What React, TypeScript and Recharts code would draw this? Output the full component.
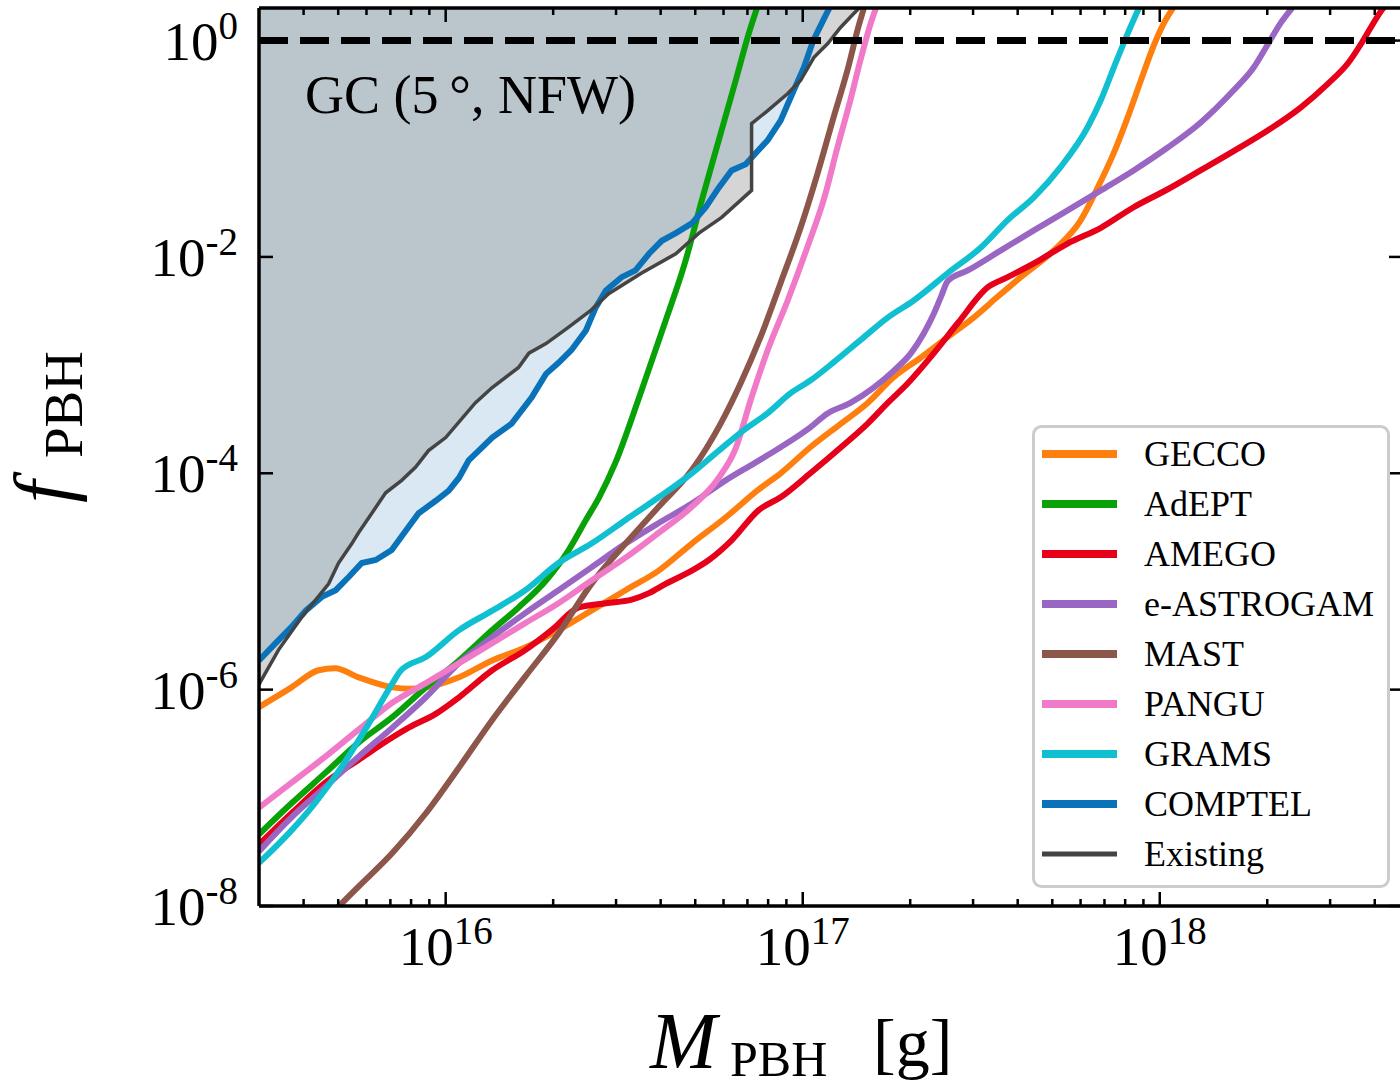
import React from 'react';
import { ComposedChart, Line, Area, XAxis, YAxis, ReferenceLine, Legend } from 'recharts';

type Pt = [number, number];

// axis ranges (mass in g, fraction f_PBH)
const X_MIN = 3.0e15;
const X_MAX = 4.8e18;
const Y_MIN = 1e-8;
const Y_MAX = 2;

const X_MAJOR = [1e16, 1e17, 1e18];
const X_MAJOR_EXP = ['16', '17', '18'];
const X_MINOR = [
  4e15, 5e15, 6e15, 7e15, 8e15, 9e15,
  2e16, 3e16, 4e16, 5e16, 6e16, 7e16, 8e16, 9e16,
  2e17, 3e17, 4e17, 5e17, 6e17, 7e17, 8e17, 9e17,
  2e18, 3e18, 4e18,
];
const Y_MAJOR = [1e-8, 1e-6, 1e-4, 1e-2, 1];
const Y_MAJOR_EXP = ['-8', '-6', '-4', '-2', '0'];

const GECCO: Pt[] = [
  [3.0e15, 6.9e-7], [3.7e15, 1.05e-6], [4.4e15, 1.51e-6], [4.9e15, 1.58e-6], [5.7e15, 1.3e-6],
  [7.1e15, 1.05e-6], [7.9e15, 1.02e-6], [8.8e15, 1.05e-6], [1.09e16, 1.3e-6], [1.35e16, 1.86e-6],
  [1.67e16, 2.45e-6], [2.07e16, 3.55e-6], [2.56e16, 5.37e-6], [3.19e16, 8.3e-6], [3.95e16, 1.26e-5],
  [4.89e16, 2.24e-5], [6.08e16, 3.9e-5], [7.53e16, 7.1e-5], [8.67e16, 1.0e-4], [1.05e17, 1.74e-4],
  [1.28e17, 2.88e-4], [1.52e17, 4.47e-4], [1.8e17, 7.76e-4], [2.14e17, 1.17e-3], [2.55e17, 1.82e-3],
  [3.01e17, 2.75e-3], [3.52e17, 4.3e-3], [4.08e17, 6.5e-3], [5.05e17, 1.15e-2], [6.01e17, 2.19e-2],
  [6.7e17, 4.37e-2], [7.43e17, 9.1e-2], [8.13e17, 0.195], [8.85e17, 0.427], [9.62e17, 0.9],
  [1.026e18, 1.44], [1.11e18, 2.19],
];

const ADEPT: Pt[] = [
  [3.0e15, 4.6e-8], [3.7e15, 8.9e-8], [4.6e15, 1.7e-7], [5.7e15, 3.24e-7], [7.1e15, 5.6e-7],
  [8.8e15, 1.05e-6], [1.09e16, 1.86e-6], [1.35e16, 3.55e-6], [1.6e16, 5.75e-6], [1.91e16, 1.02e-5],
  [2.21e16, 1.95e-5], [2.47e16, 3.7e-5], [2.69e16, 6.0e-5], [2.99e16, 1.26e-4], [3.54e16, 5.9e-4],
  [4.13e16, 2.57e-3], [4.7e16, 9.3e-3], [5.21e16, 3.3e-2], [5.82e16, 0.12], [6.49e16, 0.427],
  [7.06e16, 1.16], [7.48e16, 2.09],
];

const AMEGO: Pt[] = [
  [3.0e15, 3.7e-8], [3.7e15, 7.2e-8], [4.6e15, 1.38e-7], [5.7e15, 2.24e-7], [7.1e15, 3.63e-7],
  [7.9e15, 4.47e-7], [9.4e15, 6.0e-7], [1.09e16, 8.5e-7], [1.35e16, 1.51e-6], [1.67e16, 2.32e-6],
  [1.98e16, 3.55e-6], [2.36e16, 5.75e-6], [2.81e16, 6.3e-6], [3.32e16, 6.8e-6], [3.71e16, 7.8e-6],
  [4.13e16, 9.5e-6], [4.89e16, 1.26e-5], [5.46e16, 1.58e-5], [6.32e16, 2.4e-5], [7.53e16, 4.57e-5],
  [8.67e16, 6.0e-5], [1.05e17, 1.0e-4], [1.28e17, 1.74e-4], [1.52e17, 2.88e-4], [1.73e17, 4.47e-4],
  [1.97e17, 6.8e-4], [2.33e17, 1.29e-3], [2.72e17, 2.45e-3], [3.3e17, 5.25e-3], [3.75e17, 6.5e-3],
  [4.44e17, 8.7e-3], [5.52e17, 1.33e-2], [6.84e17, 1.86e-2], [8.45e17, 2.88e-2], [1.05e18, 4.2e-2],
  [1.3e18, 6.3e-2], [1.61e18, 9.5e-2], [2.01e18, 0.148], [2.48e18, 0.24], [2.96e18, 0.4],
  [3.37e18, 0.62], [3.66e18, 0.93], [3.9e18, 1.32], [4.22e18, 1.98], [4.57e18, 2.5],
];

const ASTROGAM: Pt[] = [
  [3.0e15, 3.2e-8], [3.7e15, 6.6e-8], [4.6e15, 1.26e-7], [5.7e15, 2.4e-7], [7.1e15, 4.47e-7],
  [8.8e15, 8.5e-7], [1.09e16, 1.76e-6], [1.35e16, 3.05e-6], [1.67e16, 5.1e-6], [2.07e16, 8.3e-6],
  [2.56e16, 1.35e-5], [3.19e16, 2.24e-5], [3.95e16, 3.47e-5], [4.89e16, 5.25e-5], [6.08e16, 8.6e-5],
  [7.29e16, 1.23e-4], [8.67e16, 1.74e-4], [1.05e17, 2.66e-4], [1.17e17, 3.55e-4], [1.36e17, 4.47e-4],
  [1.58e17, 6.2e-4], [1.8e17, 8.9e-4], [2.01e17, 1.29e-3], [2.18e17, 1.95e-3], [2.33e17, 3.0e-3],
  [2.44e17, 4.3e-3], [2.55e17, 6.0e-3], [2.9e17, 7.5e-3], [3.59e17, 1.15e-2], [4.44e17, 1.76e-2],
  [5.52e17, 2.69e-2], [6.84e17, 4.12e-2], [8.45e17, 6.3e-2], [1.05e18, 0.102], [1.3e18, 0.174],
  [1.61e18, 0.347], [1.83e18, 0.56], [2.01e18, 0.93], [2.18e18, 1.45], [2.36e18, 2.04],
];

const MAST: Pt[] = [
  [4.76e15, 8.3e-9], [5.0e15, 9.8e-9], [5.7e15, 1.51e-8], [7.1e15, 3.1e-8], [8.8e15, 7.2e-8],
  [1.09e16, 1.91e-7], [1.35e16, 5.25e-7], [1.67e16, 1.32e-6], [2.07e16, 3.3e-6], [2.56e16, 9.5e-6],
  [3.19e16, 2.24e-5], [3.95e16, 4.9e-5], [4.89e16, 1.07e-4], [5.89e16, 2.88e-4], [6.7e16, 6.8e-4],
  [7.62e16, 1.82e-3], [8.67e16, 5.75e-3], [9.86e16, 1.86e-2], [1.1e17, 5.9e-2], [1.22e17, 0.195],
  [1.34e17, 0.56], [1.43e17, 1.32], [1.49e17, 2.09],
];

const PANGU: Pt[] = [
  [3.0e15, 8.1e-8], [3.7e15, 1.38e-7], [4.6e15, 2.4e-7], [5.7e15, 4.27e-7], [7.1e15, 7.6e-7],
  [8.8e15, 1.15e-6], [1.09e16, 1.76e-6], [1.35e16, 2.69e-6], [1.67e16, 4.12e-6], [2.07e16, 6.3e-6],
  [2.56e16, 1.02e-5], [3.19e16, 1.66e-5], [3.95e16, 2.82e-5], [4.89e16, 4.9e-5], [5.82e16, 9.1e-5],
  [6.49e16, 1.7e-4], [7.14e16, 4.68e-4], [7.98e16, 1.38e-3], [9.08e16, 3.98e-3], [1.03e17, 1.23e-2],
  [1.15e17, 3.55e-2], [1.25e17, 0.102], [1.36e17, 0.282], [1.45e17, 0.653], [1.55e17, 1.44],
  [1.62e17, 2.19],
];

const GRAMS: Pt[] = [
  [3.0e15, 2.5e-8], [3.7e15, 5.0e-8], [4.3e15, 8.9e-8], [5.1e15, 1.91e-7], [6.1e15, 4.9e-7],
  [7.1e15, 1.15e-6], [7.5e15, 1.51e-6], [8.8e15, 2.0e-6], [1.09e16, 3.55e-6], [1.35e16, 5.37e-6],
  [1.67e16, 8.3e-6], [2.07e16, 1.48e-5], [2.56e16, 2.24e-5], [3.19e16, 3.7e-5], [3.95e16, 6.0e-5],
  [4.89e16, 1.0e-4], [5.82e16, 1.62e-4], [6.84e16, 2.51e-4], [7.98e16, 3.6e-4], [9.25e16, 5.5e-4],
  [1.05e17, 7.2e-4], [1.22e17, 1.06e-3], [1.45e17, 1.7e-3], [1.73e17, 2.75e-3], [2.05e17, 3.98e-3],
  [2.55e17, 7.1e-3], [3.16e17, 1.23e-2], [3.75e17, 2.19e-2], [4.44e17, 3.55e-2], [5.28e17, 6.8e-2],
  [6.28e17, 0.158], [6.84e17, 0.282], [7.43e17, 0.56], [8.13e17, 1.16], [8.85e17, 2.19],
];

const COMPTEL: Pt[] = [
  [3.0e15, 1.86e-6], [3.34e15, 2.69e-6], [3.7e15, 3.8e-6], [4.06e15, 5.4e-6], [4.5e15, 7.2e-6],
  [4.92e15, 8.3e-6], [5.35e15, 1.1e-5], [5.82e15, 1.48e-5], [6.37e15, 1.58e-5], [7.06e15, 1.95e-5],
  [7.73e15, 2.95e-5], [8.4e15, 4.27e-5], [9.4e15, 5.6e-5], [1.02e16, 6.9e-5], [1.09e16, 9.1e-5],
  [1.16e16, 1.32e-4], [1.35e16, 2.14e-4], [1.53e16, 2.88e-4], [1.74e16, 5.0e-4], [1.91e16, 8.3e-4],
  [2.07e16, 1.05e-3], [2.25e16, 1.38e-3], [2.47e16, 2.09e-3], [2.63e16, 3.4e-3], [2.81e16, 4.9e-3],
  [3.11e16, 6.5e-3], [3.4e16, 7.5e-3], [3.71e16, 1.07e-2], [4.03e16, 1.41e-2], [4.41e16, 1.66e-2],
  [4.89e16, 2.04e-2], [5.35e16, 2.88e-2], [5.82e16, 4.37e-2], [6.32e16, 6.3e-2], [6.92e16, 7.2e-2],
  [7.38e16, 9.1e-2], [7.98e16, 0.12], [8.67e16, 0.182], [9.44e16, 0.347], [1.007e17, 0.56],
  [1.07e17, 1.0], [1.15e17, 1.62], [1.2e17, 2.14],
];

const EXISTING: Pt[] = [
  [3.0e15, 1.12e-6], [3.4e15, 2.32e-6], [3.95e15, 4.68e-6], [4.33e15, 6.8e-6], [4.7e15, 9.5e-6],
  [5.01e15, 1.48e-5], [5.46e15, 2.24e-5], [5.7e15, 2.82e-5], [6.21e15, 4.27e-5], [6.79e15, 6.6e-5],
  [7.53e15, 8.6e-5], [8.24e15, 1.14e-4], [8.95e15, 1.62e-4], [1.0e16, 2.14e-4], [1.21e16, 4.47e-4],
  [1.35e16, 6.2e-4], [1.6e16, 9.5e-4], [1.71e16, 1.29e-3], [1.91e16, 1.58e-3], [2.21e16, 2.24e-3],
  [2.56e16, 3.24e-3], [2.86e16, 4.57e-3], [3.54e16, 7.1e-3], [4.41e16, 1.07e-2], [5.12e16, 1.66e-2],
  [5.93e16, 2.32e-2], [7.19e16, 4.12e-2], [7.19e16, 0.171], [7.98e16, 0.225], [9.08e16, 0.324],
  [9.86e16, 0.427], [1.074e17, 0.697], [1.175e17, 0.938], [1.276e17, 1.32], [1.39e17, 1.78],
  [1.44e17, 2.0],
];

const SERIES = [
  { name: 'GECCO', data: GECCO, color: '#ff7f0e' },
  { name: 'AdEPT', data: ADEPT, color: '#08a208' },
  { name: 'AMEGO', data: AMEGO, color: '#e6001a' },
  { name: 'e-ASTROGAM', data: ASTROGAM, color: '#9a66c4' },
  { name: 'MAST', data: MAST, color: '#8c564b' },
  { name: 'PANGU', data: PANGU, color: '#f07ac8' },
  { name: 'GRAMS', data: GRAMS, color: '#10bfd0' },
  { name: 'COMPTEL', data: COMPTEL, color: '#0a72b8' },
  { name: 'Existing', data: EXISTING, color: '#444444' },
];

const CHART_W = 1410;
const CHART_H = 1089;
const MARGIN = { top: 8, right: 7, bottom: 0, left: 0 };
const PLOT_TOP = MARGIN.top;
const PLOT_RIGHT = CHART_W - MARGIN.right;
const FONT = '"Liberation Serif", "DejaVu Serif", serif';
const LINE_W = 6;

const rows = (pts: Pt[]) => pts.map(([m, f]) => ({ m, f, top: Y_MAX }));

const XTick = (props: any) => {
  const { x, y, payload } = props;
  const i = X_MAJOR.indexOf(payload.value);
  const len = i >= 0 ? 14 : 7;
  return (
    <g>
      <line x1={x} y1={y} x2={x} y2={y - len} stroke="#000" strokeWidth={2.5} />
      <line x1={x} y1={PLOT_TOP} x2={x} y2={PLOT_TOP + len} stroke="#000" strokeWidth={2.5} />
      {i >= 0 && (
        <text x={x} y={y + 59} textAnchor="middle" fontFamily={FONT} fill="#000">
          <tspan fontSize={55}>10</tspan>
          <tspan fontSize={39} dy={-21}>{X_MAJOR_EXP[i]}</tspan>
        </text>
      )}
    </g>
  );
};

const YTick = (props: any) => {
  const { x, y, payload } = props;
  const i = Y_MAJOR.indexOf(payload.value);
  return (
    <g>
      <line x1={x} y1={y} x2={x + 14} y2={y} stroke="#000" strokeWidth={2.5} />
      <line x1={PLOT_RIGHT - 14} y1={y} x2={PLOT_RIGHT} y2={y} stroke="#000" strokeWidth={2.5} />
      <text x={x - 21} y={y + 19} textAnchor="end" fontFamily={FONT} fill="#000">
        <tspan fontSize={55}>10</tspan>
        <tspan fontSize={39} dy={-21}>{Y_MAJOR_EXP[i]}</tspan>
      </text>
    </g>
  );
};

const LegendBox = () => (
  <svg width={360} height={465} style={{ display: 'block' }}>
    <rect x={1.5} y={1.5} width={355} height={460} rx={8} fill="#fff" fillOpacity={0.8} stroke="#cccccc" strokeWidth={3} />
    {SERIES.map((s, i) => (
      <g key={s.name}>
        <line
          x1={10}
          x2={85}
          y1={29 + 50 * i}
          y2={29 + 50 * i}
          stroke={s.color}
          strokeWidth={s.name === 'Existing' ? 5 : 8}
        />
        <text x={112} y={41 + 50 * i} fontSize={36} fontFamily={FONT} fill="#000">
          {s.name}
        </text>
      </g>
    ))}
  </svg>
);

export default function App() {
  const curves = SERIES.slice(0, 7);
  const comptel = SERIES[7];
  const existing = SERIES[8];
  return (
    <div
      style={{
        position: 'absolute',
        left: 0,
        top: 0,
        width: 1400,
        height: 1089,
        overflow: 'hidden',
        background: '#fff',
      }}
    >
      <ComposedChart width={CHART_W} height={CHART_H} margin={MARGIN}>
        <XAxis
          dataKey="m"
          type="number"
          scale="log"
          domain={[X_MIN, X_MAX]}
          allowDataOverflow
          ticks={[...X_MINOR, ...X_MAJOR].sort((a, b) => a - b)}
          interval={0}
          tickSize={0}
          tickMargin={0}
          tick={XTick}
          tickLine={false}
          height={183}
          axisLine={{ stroke: '#000', strokeWidth: 3.5 }}
        />
        <YAxis
          type="number"
          scale="log"
          domain={[Y_MIN, Y_MAX]}
          allowDataOverflow
          ticks={Y_MAJOR}
          interval={0}
          tickSize={0}
          tickMargin={0}
          tick={YTick}
          tickLine={false}
          width={259}
          axisLine={{ stroke: '#000', strokeWidth: 3.5 }}
        />
        {curves.map((s) => (
          <Line
            key={s.name}
            data={rows(s.data)}
            dataKey="f"
            type="monotone"
            stroke={s.color}
            strokeWidth={LINE_W}
            dot={false}
            isAnimationActive={false}
          />
        ))}
        <Area
          data={rows(comptel.data)}
          dataKey={(d: any) => [d.f, d.top]}
          type="linear"
          stroke="none"
          fill="#1f77b4"
          fillOpacity={0.17}
          isAnimationActive={false}
        />
        <Line
          data={rows(comptel.data)}
          dataKey="f"
          type="linear"
          stroke={comptel.color}
          strokeWidth={LINE_W}
          dot={false}
          isAnimationActive={false}
        />
        <Area
          data={rows(existing.data)}
          dataKey={(d: any) => [d.f, d.top]}
          type="linear"
          stroke="none"
          fill="#808080"
          fillOpacity={0.33}
          isAnimationActive={false}
        />
        <Line
          data={rows(existing.data)}
          dataKey="f"
          type="linear"
          stroke={existing.color}
          strokeWidth={3.5}
          dot={false}
          isAnimationActive={false}
        />
        <ReferenceLine y={1} stroke="#000" strokeWidth={7} strokeDasharray="29 12" />
        <ReferenceLine y={Y_MAX} stroke="#000" strokeWidth={3.5} ifOverflow="visible" />
        <ReferenceLine x={X_MAX} stroke="#000" strokeWidth={3.5} ifOverflow="visible" />
        <Legend
          layout="horizontal"
          verticalAlign="middle"
          align="center"
          content={() => <LegendBox />}
          wrapperStyle={{ left: 1032, top: 425, width: 360, height: 465 }}
        />
      </ComposedChart>
      <svg
        width={1400}
        height={1089}
        style={{ position: 'absolute', left: 0, top: 0, pointerEvents: 'none' }}
        fontFamily={FONT}
      >
        <text x={305} y={113} fontSize={54} fill="#000">
          GC (5{'\u2009'}°, NFW)
        </text>
        <text x={650} y={1068} fontSize={80} fontStyle="italic" fill="#000">
          M
        </text>
        <text x={730} y={1076} fontSize={50} fill="#000">
          PBH
        </text>
        <text x={873} y={1066} fontSize={68} fill="#000">
          [g]
        </text>
        <g transform="translate(70,503) rotate(-90)">
          <text x={0} y={0} fontSize={80} fontStyle="italic" fill="#000">
            f
          </text>
          <text x={45} y={12} fontSize={55} fill="#000">
            PBH
          </text>
        </g>
      </svg>
    </div>
  );
}
